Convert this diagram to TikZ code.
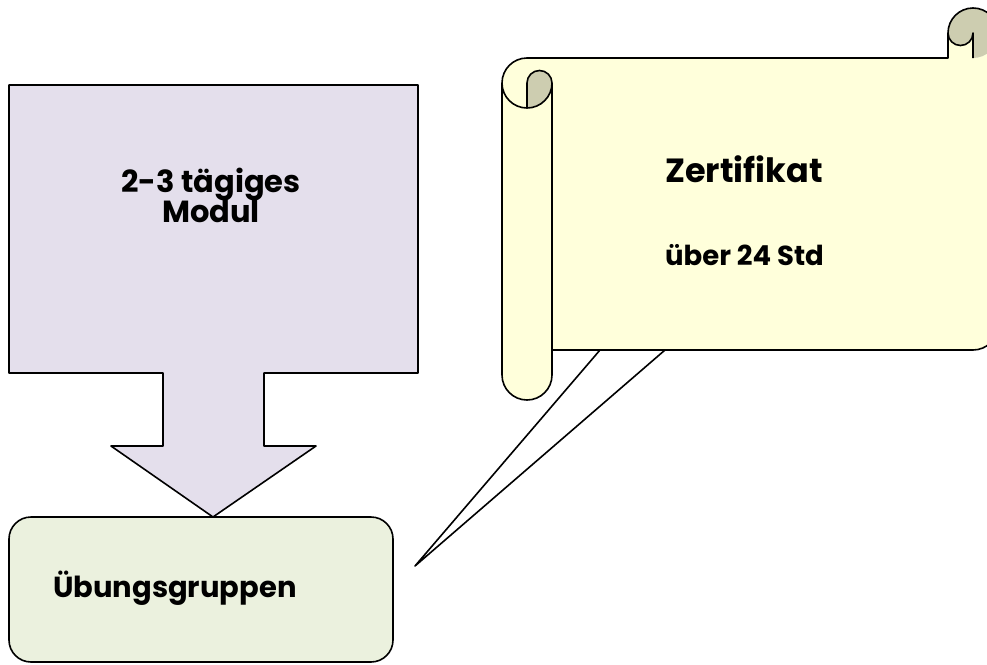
\documentclass[tikz,border=0pt]{standalone}
\usepackage{fontspec}
\setmainfont{Poppins}
\definecolor{lav}{HTML}{E4DFEC}
\definecolor{grn}{HTML}{EBF1DE}
\definecolor{scrollfill}{HTML}{FFFFDB}
\definecolor{rollfill}{HTML}{CDCDB0}
\begin{document}
\begin{tikzpicture}[x=1pt,y=-1pt,line join=round,
  outline/.style={draw=black,line width=1.6pt},
  lbl/.style={inner sep=0pt,font=\bfseries\fontsize{30.5}{34}\selectfont},
  grplbl/.style={inner sep=0pt,font=\bfseries\fontsize{29}{32}\selectfont},
  stdlbl/.style={inner sep=0pt,font=\bfseries\fontsize{27.5}{30}\selectfont},
  biglbl/.style={inner sep=0pt,font=\bfseries\fontsize{33.5}{38}\selectfont}]
\useasboundingbox (0,0) rectangle (987,664);
\clip (0,0) rectangle (987,664);
% big arrow
\draw[outline,fill=lav] (9,85) -- (418,85) -- (418,373) -- (264,373) -- (264,446) -- (316,446) -- (213,517) -- (111,446) -- (163,446) -- (163,373) -- (9,373) -- cycle;
\node[lbl,anchor=base] (m1) at (211,192) {2-3 tägiges};
\node[lbl,anchor=base] (m2) at (211,222) {Modul};
% green box
\draw[outline,fill=grn,rounded corners=22pt] (9,517) rectangle (393,662);
\node[grplbl,anchor=base west] (ub) at (53,597) {Übungsgruppen};
% callout lines
\coordinate (c1) at (600,350);
\coordinate (c2) at (665,350);
\coordinate (tip) at (415,566);
\draw[outline] (c1) -- (tip) -- (c2);
% scroll fills
\fill[scrollfill] (998,33) arc[start angle=0,end angle=90,radius=25] -- (973,33) arc[start angle=0,end angle=180,radius=12.5] -- (948,58) -- (527,58) arc[start angle=270,end angle=180,radius=25] -- (502,375) arc[start angle=180,end angle=0,radius=25] -- (552,350) -- (973,350) arc[start angle=90,end angle=0,radius=25] -- cycle;
\fill[rollfill] (973,58) arc[start angle=90,end angle=-180,radius=25] arc[start angle=180,end angle=0,radius=12.5] -- cycle;
\fill[rollfill] (527,108) arc[start angle=90,end angle=0,radius=25] arc[start angle=0,end angle=-180,radius=12.5] -- cycle;
% scroll outlines
\draw[outline] (502,83) arc[start angle=180,end angle=270,radius=25] -- (948,58) -- (948,33) arc[start angle=180,end angle=360,radius=25] -- (998,325) arc[start angle=0,end angle=90,radius=25] -- (552,350) -- (552,375) arc[start angle=0,end angle=180,radius=25] -- cycle;
\draw[outline] (973,58) -- (973,33) arc[start angle=0,end angle=180,radius=12.5];
\draw[outline] (527,108) -- (527,83) arc[start angle=180,end angle=360,radius=12.5] arc[start angle=0,end angle=180,radius=25];
\draw[outline] (552,83) -- (552,350);
\node[biglbl,anchor=base west] (z) at (665,182) {Zertifikat};
\node[stdlbl,anchor=base west] (s) at (665,265) {über 24 Std};
\end{tikzpicture}
\end{document}
